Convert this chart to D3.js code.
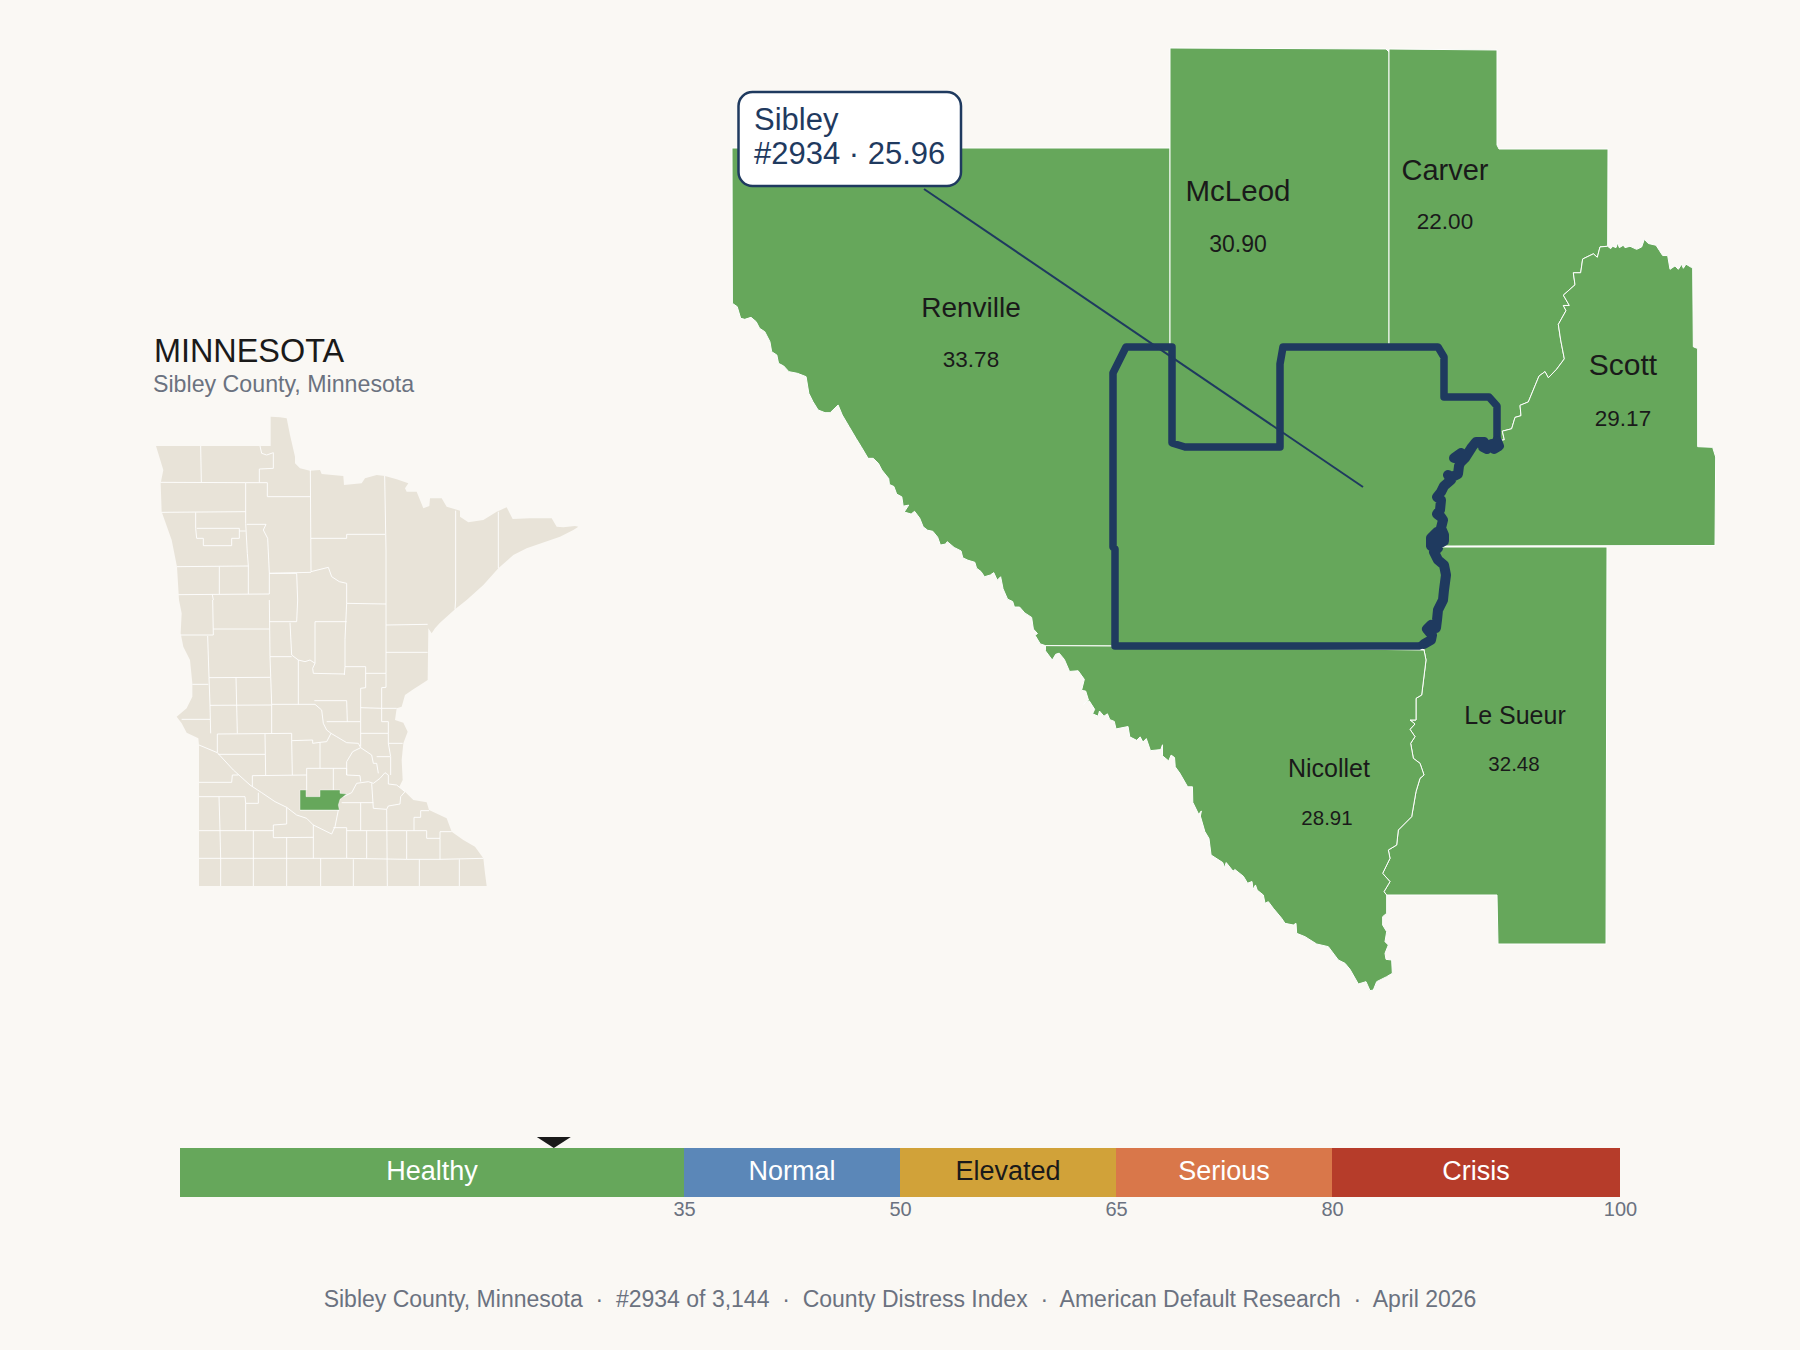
<!DOCTYPE html>
<html>
<head>
<meta charset="utf-8">
<title>Sibley County, Minnesota</title>
<script src="https://cdn.jsdelivr.net/npm/d3@7"></script>
<style>
    html, body { margin: 0; padding: 0; background: #faf8f4; }
    text { font-family: "Liberation Sans", Arial, sans-serif; white-space: pre; }
</style>
</head>
<body>
<div id="chart"></div>
<script>
// county scores
const countyNames = ["Renville", "McLeod", "Carver", "Scott", "Le Sueur", "Nicollet"];
const countyScores = [33.78, 30.90, 22.00, 29.17, 32.48, 28.91];
const focusName = "Sibley";
const focusRank = 2934;
const focusScore = 25.96;

// index bands
const bandNames = ["Healthy", "Normal", "Elevated", "Serious", "Crisis"];
const bandBreaks = [0, 35, 50, 65, 80, 100];
const tickValues = [35, 50, 65, 80, 100];

// traced outlines, each list in the units of the sheet it was read from
const sheet = function (x0, y0, kx, ky) {
    return function (pts) {
        return pts.map(function (p) { return [x0 + p[0] / kx, y0 + p[1] / ky]; });
    };
};
const sheetNW = sheet(720, 30, 2.904, 3);
const sheetNE = sheet(1240, 30, 3, 2.904);
const sheetSW = sheet(720, 470, 2.904, 2.904);
const sheetSE = sheet(1230, 520, 3, 3);

const renvilleCoast = sheetNW([[36,820],[50,830],[60,865],[72,868],[90,862],[105,875],[115,895],[130,905],[145,935],[150,965],[165,975],[170,1000],[185,1008],[200,1025],[225,1030],[250,1040],[258,1090],[270,1115],[285,1140],[305,1148],[320,1148],[343,1125],[355,1155],[375,1190],[395,1225],[410,1250],[430,1285],[445,1285],[460,1300]])
    .concat(sheetSW([[470,0],[490,25],[492,42],[505,48],[513,70],[528,78],[532,105],[548,102],[535,122],[555,128],[565,120],[580,140],[590,165],[603,175],[618,178],[632,195],[640,218],[655,215],[660,208],[680,225],[700,235],[705,255],[720,262],[740,268],[745,285],[758,295],[768,310],[785,305],[795,298],[805,320],[815,310],[822,345],[835,375],[850,382],[855,398],[870,398],[885,415],[905,428],[910,462],[922,475],[915,480],[930,505],[945,510]]));
const nicolletCoast = sheetSW([[945,525],[965,552],[975,535],[985,532],[1000,550],[1015,585],[1040,583],[1058,608],[1050,640],[1062,642],[1070,668],[1055,680],[1072,670],[1088,695],[1082,708],[1098,715],[1102,700],[1115,715],[1125,708],[1132,725],[1145,730],[1150,752],[1185,745],[1190,775],[1210,785],[1220,775],[1228,790],[1238,780],[1250,815],[1280,812],[1285,798],[1285,830],[1303,845],[1310,828],[1320,835],[1322,862],[1335,880],[1358,920],[1372,920],[1373,965],[1390,1000],[1398,990],[1395,1005],[1408,1050],[1420,1070],[1426,1118],[1460,1140],[1465,1155],[1470,1140],[1490,1165],[1495,1160],[1520,1180],[1532,1200],[1545,1195],[1548,1218],[1555,1205],[1560,1220]])
    .concat(sheetSE([[100,1125],[105,1150],[115,1145],[130,1165],[155,1195],[165,1210],[190,1215],[198,1210],[200,1240],[225,1250],[260,1272],[295,1280],[325,1320],[345,1330],[360,1348],[385,1392],[408,1385],[420,1412]]));
const nicolletTail = sheetSE([[470,1125],[470,1180],[458,1190],[458,1215],[470,1235],[465,1265],[475,1275],[465,1300],[468,1318],[485,1320],[487,1360],[470,1370],[440,1385],[430,1410]]);
const nicolletLeSueurRiver = sheetSE([[582,390],[588,420],[575,525],[558,535],[558,600],[540,600],[555,612],[540,628],[555,650],[542,670],[550,715],[570,730],[582,765],[570,775],[558,815],[545,890],[505,930],[500,975],[475,990],[480,1015],[458,1060],[480,1085],[462,1115],[470,1125]]);
const carverScottRiver = sheetNE([[1103,628],[1080,630],[1072,660],[1060,650],[1028,665],[1022,705],[1000,705],[1005,740],[970,770],[988,800],[970,800],[978,815],[955,855],[962,900],[973,955],[950,985],[925,1010],[915,992],[897,1005],[865,1080],[840,1090],[843,1120],[825,1125],[815,1158],[787,1165],[793,1190]]).concat([[1497,441]]);
const scottEdge = sheetNE([[1103,628],[1112,635],[1118,628],[1128,632],[1133,618],[1138,632],[1150,625],[1155,632],[1170,628],[1190,637],[1205,630],[1213,608],[1225,620],[1248,625],[1258,640],[1268,655],[1283,655],[1290,695],[1305,685],[1315,695],[1325,680],[1330,692],[1338,680],[1355,690],[1358,688],[1360,920],[1373,925],[1373,1210],[1418,1212],[1427,1240],[1425,1497]]);
const sibleyWest = [[1115,646],[1115,549],[1113,547],[1113,373],[1126,347],[1172,347]];
const sibleyNotch = [[1172,347],[1172,443],[1185,447],[1280,447],[1280,364],[1283,347],[1389,347]];
const sibleyEast = [[1389,347],[1438,347],[1444,357],[1444,397],[1489,397],[1497,406],[1497,441]];
const sibleyRiverUpper = [[1497,441],[1499,446],[1494,449],[1492,444],[1487,449],[1483,447],[1484,442],[1476,442],[1472,447],[1465,458],[1461,462],[1458,458],[1454,458],[1461,453],[1463,456],[1459,466],[1458,474],[1452,477],[1448,475],[1451,480],[1444,486],[1441,492],[1437,497],[1441,500],[1440,510],[1437,514],[1441,517],[1443,520],[1441,528],[1444,535],[1444,541],[1437,545],[1431,546],[1431,538],[1437,532],[1441,536],[1438,548]];
const sibleyRiverLower = [[1438,548],[1434,552],[1438,560],[1444,565],[1446,575],[1444,590],[1443,600],[1438,610],[1437,620],[1436,628],[1431,625],[1427,629],[1432,635],[1431,640],[1424,644]];

const rev = function (a) { return a.slice().reverse(); };
const ring = function (a) { return a.concat([a[0]]); };
const riverHead = nicolletLeSueurRiver[0];
const coastEnd = renvilleCoast[renvilleCoast.length - 1];

const countyOutlines = {
    "Renville": [[732,148],[1170,148],[1170,347]].concat(rev(sibleyWest), [coastEnd], rev(renvilleCoast)),
    "McLeod": [[1170,48],[1386,49],[1389,52]].concat(rev(sibleyNotch), [[1170,347]]),
    "Carver": [[1389,49],[1497,50],[1497,145],[1499,149],[1608,149]].concat(carverScottRiver, rev(sibleyEast)),
    "Scott": scottEdge.concat([[1445,546]], rev(sibleyRiverUpper), rev(carverScottRiver)),
    "Le Sueur": [[1438,547],[1607,547],[1606,944],[1498,944],[1497,895]].concat(rev(nicolletLeSueurRiver), rev(sibleyRiverLower)),
    "Nicollet": [coastEnd, [1115,646], riverHead].concat(nicolletLeSueurRiver, nicolletTail, rev(nicolletCoast))
};
const focusOutline = sibleyWest.concat(sibleyNotch, sibleyEast, sibleyRiverUpper, sibleyRiverLower, [[1419,646]]);

// label anchors: name point, value point, map units
const nameAnchors = [[971,317],[1238,201],[1445,180],[1623,375],[1515,724],[1329,777]];
const valueAnchors = [[971,367],[1238,252],[1445,229],[1623,426],[1514,771],[1327,825]];
const nameSizes = [28, 29.5, 29, 30, 25, 25];
const valueSizes = [22.5, 23, 22.5, 22.5, 20.5, 20.5];
const leaderEnds = [[924,189],[1363,487]];

// state overview, traced in two sheets
const stateNorth = [[78,378],[422,378],[422,290],[450,292],[470,295],[480,345],[495,410],[495,430],[510,445],[540,452],[570,450],[575,462],[640,468],[642,495],[695,490],[705,475],[740,465],[765,468],[800,478],[835,490],[825,505],[830,515],[860,515],[880,565],[898,558],[900,535],[935,535],[950,560],[990,572],[990,590],[1015,607],[1060,600],[1100,575],[1130,562],[1148,597],[1200,595],[1265,595],[1280,620],[1300,622],[1335,618],[1345,620],[1330,630],[1290,650],[1190,685],[1150,705],[1105,745],[1060,795],[1010,840]];
const stateSouth = [[975,28],[930,68],[915,85],[905,100],[895,85],[893,240],[870,255],[850,268],[825,285],[815,320],[800,325],[795,360],[820,368],[833,395],[820,430],[815,480],[818,540],[808,560],[825,575],[850,600],[890,607],[897,630],[950,655],[965,695],[1000,720],[1035,740],[1060,775],[1065,820],[1070,858],[207,858],[207,435],[205,415],[170,398],[155,370],[140,350],[170,325],[187,290],[187,250],[180,180],[160,140],[152,100],[155,40],[147,0]];
const stateNorthWest = [[147,840],[141,740],[125,660],[95,575],[92,490],[100,450]];
const linesNorth = [
    [[212,378],[214,487]],
    [[92,487],[347,488],[412,488],[412,530],[541,530]],
    [[390,378],[395,400],[410,405],[430,398],[430,445],[388,447],[388,487]],
    [[541,450],[543,755]],
    [[764,468],[768,690],[768,840]],
    [[347,488],[347,610],[352,700],[355,738]],
    [[95,577],[347,575]],
    [[197,577],[197,625],[200,655],[220,655],[220,677],[305,677],[305,655],[328,655],[328,625],[200,625]],
    [[328,633],[347,633]],
    [[350,613],[408,613],[400,630],[413,655],[418,760],[418,822]],
    [[141,740],[355,738]],
    [[268,740],[268,822]],
    [[355,738],[355,822]],
    [[145,824],[418,822]],
    [[247,824],[250,840]],
    [[418,760],[500,760],[503,840]],
    [[543,655],[650,655],[650,643],[765,643]],
    [[543,755],[595,742],[605,770],[628,785],[650,790],[650,840]],
    [[418,760],[543,757]],
    [[977,572],[977,840]],
    [[1105,575],[1105,745]]
];
const linesSouth = [
    [[248,0],[250,105],[152,105]],
    [[250,87],[418,87]],
    [[233,108],[237,233],[420,232]],
    [[418,0],[420,170],[425,313]],
    [[418,65],[500,65],[503,0]],
    [[480,68],[485,165],[505,180],[525,185],[540,180],[555,190],[548,205],[550,220],[645,222]],
    [[420,170],[485,170]],
    [[555,65],[650,65]],
    [[555,65],[555,190]],
    [[650,10],[768,12]],
    [[650,0],[650,10],[645,118],[645,200],[643,225]],
    [[505,180],[505,313]],
    [[645,200],[707,200],[707,263],[692,265],[692,365]],
    [[707,220],[768,220],[768,262],[755,263],[755,325],[692,323]],
    [[768,0],[768,220]],
    [[977,0],[975,28]],
    [[768,75],[893,73]],
    [[768,157],[893,157]],
    [[237,233],[240,315],[242,400]],
    [[187,253],[235,253]],
    [[318,233],[322,400]],
    [[240,316],[425,315]],
    [[425,313],[425,400]],
    [[425,313],[555,313],[575,330],[580,370],[590,390],[603,400]],
    [[553,302],[650,302],[652,365]],
    [[590,365],[692,365],[692,440]],
    [[692,400],[775,400],[775,365],[755,365],[755,325]],
    [[755,325],[800,325]],
    [[775,400],[775,430],[818,430]],
    [[775,430],[782,470],[782,525]],
    [[603,400],[620,410],[650,428],[685,430],[692,443],[725,465],[730,490],[740,490],[745,520]],
    [[692,443],[668,455],[650,485],[650,525],[690,527],[692,545]],
    [[740,470],[780,470]],
    [[603,400],[590,425],[570,427],[570,505]],
    [[570,427],[548,430],[548,420],[485,422],[487,525]],
    [[485,400],[485,422]],
    [[262,402],[485,400]],
    [[405,402],[407,525]],
    [[155,358],[240,358]],
    [[262,402],[262,458]],
    [[207,435],[262,458],[310,510],[360,555],[395,578],[435,605],[470,622],[500,645],[530,655],[550,675],[605,702]],
    [[265,463],[405,463]],
    [[207,547],[305,547],[307,525],[325,525]],
    [[207,590],[345,590],[347,610],[385,610],[385,578]],
    [[367,527],[530,525]],
    [[367,527],[367,560]],
    [[530,505],[650,505]],
    [[530,505],[530,570]],
    [[610,505],[610,570]],
    [[650,505],[650,525]],
    [[640,590],[665,578],[680,550],[715,545],[730,550],[750,535],[765,518],[775,525],[775,552],[800,555],[825,575]],
    [[725,550],[730,625],[770,628],[775,618],[810,612],[812,590],[825,575]],
    [[635,608],[730,608]],
    [[692,608],[692,692]],
    [[510,630],[628,630]],
    [[470,622],[470,672],[430,675],[430,713],[550,712]],
    [[625,630],[615,680],[605,702]],
    [[610,683],[650,683],[650,775]],
    [[550,675],[550,775]],
    [[207,692],[430,692]],
    [[267,590],[270,692],[272,775]],
    [[347,610],[347,692]],
    [[370,692],[370,858]],
    [[470,712],[470,858]],
    [[207,775],[650,775],[830,778],[930,778],[1060,775]],
    [[272,775],[272,858]],
    [[572,775],[572,858]],
    [[670,778],[670,858]],
    [[710,692],[710,775]],
    [[770,628],[772,858]],
    [[650,692],[830,692],[890,692],[890,715],[930,715],[930,695],[965,695]],
    [[830,692],[830,778]],
    [[868,778],[868,858]],
    [[988,778],[988,858]],
    [[930,715],[930,778]],
    [[852,692],[852,652],[872,652],[872,632],[897,632]]
];
const focusInset = [[510,570],[528,570],[528,590],[570,590],[570,570],[630,570],[630,580],[650,582],[630,598],[625,615],[628,630],[510,630]];

// colours
const pageColor = "#faf8f4";
const healthyGreen = "#66a75b";
const navy = "#1f3a5f";
const darkText = "#1a1a1a";
const greyText = "#6b7280";
const landColor = "#e8e3d8";
const bandColors = ["#66a75b", "#5b87b8", "#d1a239", "#d9774a", "#b63c2a"];
const bandTextColors = ["#ffffff", "#ffffff", "#1a1a1a", "#ffffff", "#ffffff"];

const svg = d3.select("#chart").append("svg")
    .attr("width", 1800)
    .attr("height", 1350)
    .style("display", "block");

svg.append("rect")
    .attr("width", 1800)
    .attr("height", 1350)
    .attr("fill", pageColor);

//overview map
const sheetGap = 840;
const shiftSheet = function (pts) {
    return pts.map(function (p) { return [p[0], p[1] + sheetGap]; });
};
const insetPath = d3.geoPath(d3.geoIdentity().scale(1 / 3).translate([130, 320]));
const inset = svg.append("g").attr("class", "inset");

inset.append("path")
    .datum({
        type: "Polygon",
        coordinates: [ring(stateNorth.concat(shiftSheet(stateSouth), stateNorthWest))]
    })
    .attr("d", insetPath)
    .attr("fill", landColor);

inset.append("path")
    .datum({
        type: "MultiLineString",
        coordinates: linesNorth.concat(linesSouth.map(shiftSheet))
    })
    .attr("d", insetPath)
    .attr("fill", "none")
    .attr("stroke", "#ffffff")
    .attr("stroke-width", 0.9);

inset.append("path")
    .datum({ type: "Polygon", coordinates: [ring(shiftSheet(focusInset))] })
    .attr("d", insetPath)
    .attr("fill", healthyGreen)
    .attr("stroke", "#ffffff")
    .attr("stroke-width", 0.4);

svg.append("text")
    .attr("x", 154)
    .attr("y", 362)
    .attr("font-size", 32.4)
    .attr("fill", darkText)
    .text("MINNESOTA");

svg.append("text")
    .attr("x", 153)
    .attr("y", 392)
    .attr("font-size", 23.2)
    .attr("fill", greyText)
    .text(focusName + " County, Minnesota");

//detail map
const detailProjection = d3.geoIdentity();
const detailPath = d3.geoPath(detailProjection);
const detail = svg.append("g").attr("class", "detail");

detail.selectAll("path.county")
    .data(countyNames)
    .enter()
    .append("path")
    .attr("class", "county")
    .attr("d", function (d) {
        return detailPath({ type: "Polygon", coordinates: [ring(countyOutlines[d])] });
    })
    .attr("fill", healthyGreen)
    .attr("stroke", "#ffffff")
    .attr("stroke-width", 1)
    .attr("stroke-linejoin", "round");

detail.append("path")
    .attr("d", detailPath({ type: "Polygon", coordinates: [ring(focusOutline)] }))
    .attr("fill", healthyGreen)
    .attr("stroke", navy)
    .attr("stroke-width", 7.5)
    .attr("stroke-linejoin", "round");

// the river side reads heavier than the straight edges
detail.append("path")
    .attr("d", detailPath({ type: "LineString", coordinates: sibleyRiverUpper.concat(sibleyRiverLower) }))
    .attr("fill", "none")
    .attr("stroke", navy)
    .attr("stroke-width", 10)
    .attr("stroke-linejoin", "round")
    .attr("stroke-linecap", "round");

detail.append("path")
    .attr("d", detailPath({ type: "LineString", coordinates: leaderEnds }))
    .attr("fill", "none")
    .attr("stroke", navy)
    .attr("stroke-width", 2);

detail.selectAll("text.county-name")
    .data(countyNames)
    .enter()
    .append("text")
    .attr("class", "county-name")
    .attr("x", function (d, i) { return detailProjection(nameAnchors[i])[0]; })
    .attr("y", function (d, i) { return detailProjection(nameAnchors[i])[1]; })
    .attr("text-anchor", "middle")
    .attr("font-size", function (d, i) { return nameSizes[i]; })
    .attr("fill", darkText)
    .text(function (d) { return d; });

detail.selectAll("text.county-score")
    .data(countyScores)
    .enter()
    .append("text")
    .attr("class", "county-score")
    .attr("x", function (d, i) { return detailProjection(valueAnchors[i])[0]; })
    .attr("y", function (d, i) { return detailProjection(valueAnchors[i])[1]; })
    .attr("text-anchor", "middle")
    .attr("font-size", function (d, i) { return valueSizes[i]; })
    .attr("fill", darkText)
    .text(function (d) { return d.toFixed(2); });

//callout
svg.append("rect")
    .attr("x", 738.5)
    .attr("y", 92)
    .attr("width", 222.5)
    .attr("height", 94)
    .attr("rx", 14)
    .attr("fill", "#ffffff")
    .attr("stroke", navy)
    .attr("stroke-width", 2.5);

svg.append("text")
    .attr("x", 754)
    .attr("y", 130)
    .attr("font-size", 31)
    .attr("fill", navy)
    .text(focusName);

svg.append("text")
    .attr("x", 754)
    .attr("y", 164)
    .attr("font-size", 31)
    .attr("fill", navy)
    .text("#" + focusRank + " \u00b7 " + focusScore.toFixed(2));

//index bar
const barX = d3.scaleLinear().domain([0, 100]).range([180, 1620]);
const barTop = 1148;
const barBottom = 1197;
const bar = svg.append("g").attr("class", "bar");

bar.selectAll("rect")
    .data(bandNames)
    .enter()
    .append("rect")
    .attr("x", function (d, i) { return barX(bandBreaks[i]); })
    .attr("y", barTop)
    .attr("width", function (d, i) { return barX(bandBreaks[i + 1]) - barX(bandBreaks[i]); })
    .attr("height", barBottom - barTop)
    .attr("fill", function (d, i) { return bandColors[i]; });

bar.selectAll("text")
    .data(bandNames)
    .enter()
    .append("text")
    .attr("x", function (d, i) { return (barX(bandBreaks[i]) + barX(bandBreaks[i + 1])) / 2; })
    .attr("y", 1180)
    .attr("text-anchor", "middle")
    .attr("font-size", 27)
    .attr("fill", function (d, i) { return bandTextColors[i]; })
    .text(function (d) { return d; });

// marker
bar.append("path")
    .attr("d", d3.line()([[barX(focusScore) - 17, barTop - 11], [barX(focusScore) + 17, barTop - 11], [barX(focusScore), barTop]]) + "Z")
    .attr("fill", darkText);

const barAxis = svg.append("g")
    .attr("transform", "translate(0," + barBottom + ")")
    .call(d3.axisBottom(barX).tickValues(tickValues).tickSize(0).tickPadding(5).tickFormat(d3.format("d")));
barAxis.select(".domain").remove();
barAxis.selectAll("text")
    .attr("font-family", "Liberation Sans, Arial, sans-serif")
    .attr("font-size", 20)
    .attr("fill", greyText);

//footer
const footerParts = [focusName + " County, Minnesota", "#2934 of 3,144", "County Distress Index", "American Default Research", "April 2026"];
svg.append("text")
    .attr("x", 900)
    .attr("y", 1307)
    .attr("text-anchor", "middle")
    .attr("font-size", 23)
    .attr("fill", greyText)
    .text(footerParts.join("  \u00b7  "));
</script>
</body>
</html>
